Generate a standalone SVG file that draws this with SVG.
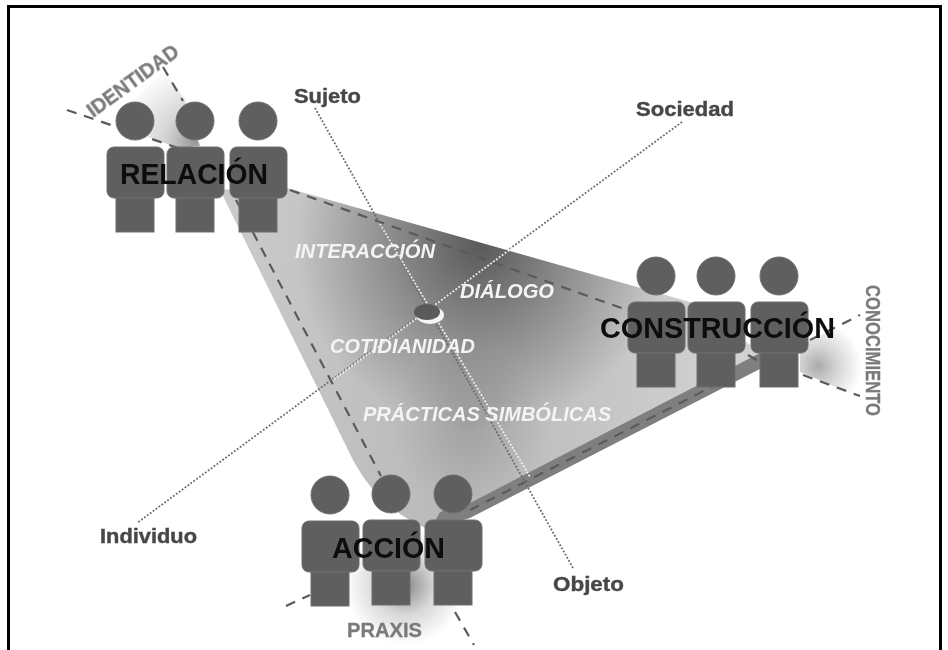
<svg xmlns="http://www.w3.org/2000/svg" width="948" height="650" viewBox="0 0 948 650">
<style>
.p{fill:#5f5f5f;stroke:#6e6e6e;stroke-width:1}
.d{fill:none;stroke:#5a5a5a;stroke-width:2.2;stroke-dasharray:10 8}
.o{fill:none;stroke:#6a6a6a;stroke-width:1.8;stroke-dasharray:1.8 1.8}
.o2{fill:none;stroke:#f2f2f2;stroke-width:1.8;stroke-dasharray:1.8 1.8}
text{font-family:"Liberation Sans",Arial,sans-serif;font-weight:700}
.n{font-size:29px;fill:#0a0a0a;stroke:none}
.g{font-size:19.500px;fill:#474747;stroke:#474747;stroke-width:.4}
.c{font-size:20px;fill:#7a7a7a;stroke:#7a7a7a;stroke-width:.3}
.w{font-size:20.500px;font-style:italic;fill:#f4f4f4}
</style>
<defs>
<filter id="s" x="-10%" y="-10%" width="120%" height="120%"><feGaussianBlur stdDeviation="0.55"/></filter>
<linearGradient id="base" gradientUnits="userSpaceOnUse" x1="230" y1="300" x2="730" y2="340">
<stop offset="0" stop-color="#cacaca"/><stop offset=".5" stop-color="#b8b8b8"/><stop offset="1" stop-color="#d2d2d2"/>
</linearGradient>
<radialGradient id="dark" gradientUnits="userSpaceOnUse" cx="480" cy="245" r="185">
<stop offset="0" stop-color="#404040" stop-opacity=".78"/><stop offset=".45" stop-color="#404040" stop-opacity=".42"/><stop offset="1" stop-color="#404040" stop-opacity="0"/>
</radialGradient>
<radialGradient id="dark2" gradientUnits="userSpaceOnUse" cx="470" cy="425" r="80">
<stop offset="0" stop-color="#505050" stop-opacity=".22"/><stop offset="1" stop-color="#505050" stop-opacity="0"/>
</radialGradient>
<radialGradient id="w1" gradientUnits="userSpaceOnUse" cx="195" cy="142" r="78">
<stop offset="0" stop-color="#9a9a9a"/><stop offset=".4" stop-color="#d6d6d6"/><stop offset="1" stop-color="#fff"/>
</radialGradient>
<radialGradient id="w2" gradientUnits="userSpaceOnUse" cx="818" cy="366" r="44">
<stop offset="0" stop-color="#ababab"/><stop offset=".45" stop-color="#d6d6d6"/><stop offset="1" stop-color="#fff"/>
</radialGradient>
<radialGradient id="w3" gradientUnits="userSpaceOnUse" cx="405" cy="585" r="60">
<stop offset="0" stop-color="#888"/><stop offset=".5" stop-color="#d8d8d8"/><stop offset="1" stop-color="#fff"/>
</radialGradient>
<clipPath id="tri"><path d="M220 190L280 186L690 302L760 352L762 368L470 518L430 530C395 515 372 495 353 460Z"/></clipPath>
<g id="person"><circle cx="28" cy="0" r="19"/><rect x="0" y="26" width="57" height="51" rx="7"/><rect x="9" y="77" width="38" height="34"/></g>
</defs>
<rect width="948" height="650" fill="#fff"/>
<path d="M8.500 650V6.500H940.500V650" fill="none" stroke="#000" stroke-width="3"/>
<g id="wedges">
<path d="M200 146L178 148L108 122L165 70L185 100Z" fill="url(#w1)"/>
<path d="M800 345L862 316L862 398L800 372Z" fill="url(#w2)"/>
<rect x="340" y="520" width="130" height="125" fill="url(#w3)"/>
</g>
<g id="plane">
<path d="M220 190L280 186L690 302L760 352L762 368L470 518L430 530C395 515 372 495 353 460Z" fill="url(#base)"/>
<g clip-path="url(#tri)">
<rect x="200" y="170" width="580" height="370" fill="url(#dark)"/>
<rect x="200" y="170" width="580" height="370" fill="url(#dark2)"/>
<path d="M762 352L762 368L470 518L430 530L440 512L470 503Z" fill="#7f7f7f"/>
</g>
</g>
<g id="connectors" filter="url(#s)">
<path class="d" d="M290 190L627 310"/>
<path class="d" d="M236 200L381 476"/>
<path class="d" d="M470 510L735 375M748 355L760 362"/>
<path class="d" d="M67 110L178 148"/>
<path class="d" d="M163 67L183 101"/>
<path class="d" d="M810 340L860 315"/>
<path class="d" d="M803 375L860 396"/>
<path class="d" d="M286 606L310 595"/>
<path class="d" d="M455 612L474 645"/>
<path class="o" d="M315 108L573 568"/>
<path class="o" d="M682 122L137 523"/>
<path class="o2" d="M380 224L530 477"/>
<path class="o2" d="M512 248L333 380"/>
</g>
<g id="center" filter="url(#s)">
<ellipse cx="430" cy="315" rx="14" ry="9" fill="#f6f6f6"/>
<ellipse cx="427" cy="312" rx="13" ry="8" fill="#5a5a5a"/>
</g>
<g id="relacion" class="p" filter="url(#s)">
<use href="#person" x="107" y="121"/><use href="#person" x="167" y="121"/><use href="#person" x="230" y="121"/>
<text class="n" x="120" y="184" textLength="148" lengthAdjust="spacingAndGlyphs">RELACIÓN</text>
</g>
<g id="construccion" class="p" filter="url(#s)">
<use href="#person" x="628" y="276"/><use href="#person" x="688" y="276"/><use href="#person" x="751" y="276"/>
<text class="n" x="600" y="338" textLength="235" lengthAdjust="spacingAndGlyphs">CONSTRUCCIÓN</text>
</g>
<g id="accion" class="p" filter="url(#s)">
<use href="#person" x="302" y="495"/><use href="#person" x="363" y="494"/><use href="#person" x="425" y="494"/>
<text class="n" x="332" y="558" textLength="113" lengthAdjust="spacingAndGlyphs">ACCIÓN</text>
</g>
<g id="labels" filter="url(#s)">
<text class="g" x="294" y="103" textLength="67" lengthAdjust="spacingAndGlyphs">Sujeto</text>
<text class="g" x="636" y="116" textLength="98" lengthAdjust="spacingAndGlyphs">Sociedad</text>
<text class="g" x="100" y="543" textLength="97" lengthAdjust="spacingAndGlyphs">Individuo</text>
<text class="g" x="553" y="591" textLength="71" lengthAdjust="spacingAndGlyphs">Objeto</text>
<text class="w" x="295" y="258" textLength="140" lengthAdjust="spacingAndGlyphs">INTERACCIÓN</text>
<text class="w" x="460" y="298" textLength="94" lengthAdjust="spacingAndGlyphs">DIÁLOGO</text>
<text class="w" x="330" y="353" textLength="145" lengthAdjust="spacingAndGlyphs">COTIDIANIDAD</text>
<text class="w" x="363" y="421" textLength="248" lengthAdjust="spacingAndGlyphs">PRÁCTICAS SIMBÓLICAS</text>
<text class="c" x="347" y="637" textLength="75" lengthAdjust="spacingAndGlyphs">PRAXIS</text>
<text class="c" transform="translate(93 118) rotate(-36)" textLength="108" lengthAdjust="spacingAndGlyphs">IDENTIDAD</text>
<text class="c" transform="translate(866 285) rotate(90)" style="font-size:21px" textLength="131" lengthAdjust="spacingAndGlyphs">CONOCIMIENTO</text>
</g>
</svg>
